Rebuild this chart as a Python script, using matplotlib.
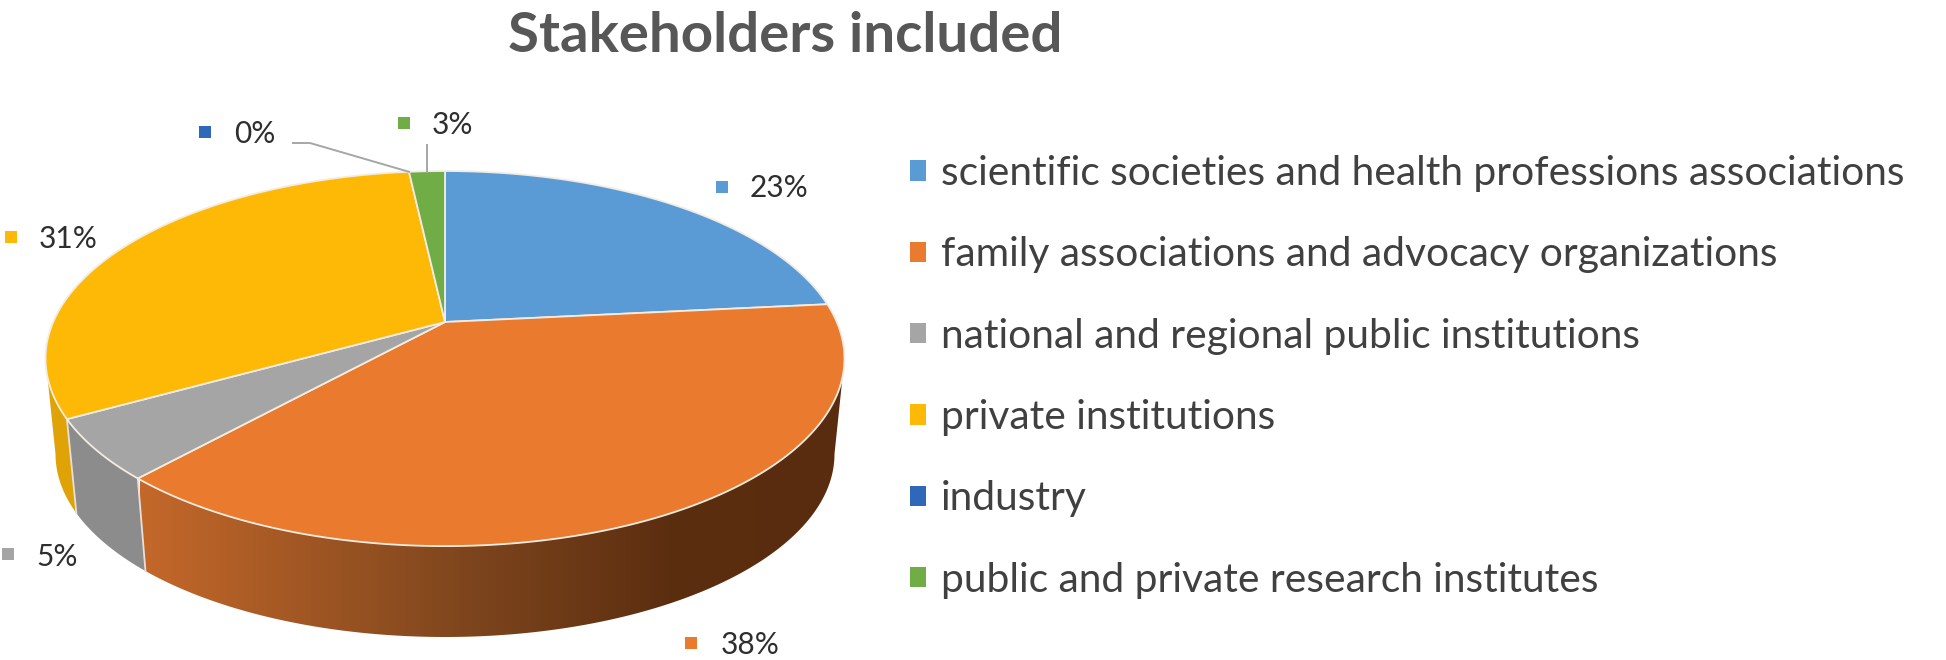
import numpy as np
import matplotlib
matplotlib.use('Agg')
import matplotlib.pyplot as plt
from matplotlib.patches import Polygon, Patch
from matplotlib.colors import LinearSegmentedColormap

# shares, the labels are the printed ones
categories = ['scientific societies and health professions associations',
              'family associations and advocacy organizations',
              'national and regional public institutions',
              'private institutions',
              'industry',
              'public and private research institutes']
shares = [23.4, 38.3, 5.2, 31.35, 0.0, 1.75]
labels = ['23%', '38%', '5%', '31%', '0%', '3%']
colors = ['#5b9bd5', '#ea7b2e', '#a5a5a5', '#fdb906', '#2f68b8', '#70ad47']
wall_colors = ['#44749f', '#b5622a', '#8c8c8c', '#dfa308', '#254f8c', '#55823a']

# pie projection (pixels of the reference)
apex_x, apex_y = 445.0, 322.0
R, S, k = 391.8, 180.4, 0.195
wall_scale, wall_drop = 0.975, 96.5

plt.rcParams['font.family'] = ['Lato', 'DejaVu Sans']

fig = plt.figure(figsize=(19.46, 6.6), dpi=100)
ax = fig.add_axes([0, 0, 1, 1])
ax.set_xlim(0, 1946)
ax.set_ylim(660, 0)
ax.axis('off')


def rim(theta):
    X, Y = np.cos(theta), np.sin(theta)
    w = 1 + k * Y
    return apex_x + R * X / w, apex_y - S * Y / w


def base(theta):
    x, y = rim(theta)
    return apex_x + wall_scale * (x - apex_x), apex_y + wall_scale * (y - apex_y) + wall_drop


# slice edges, clockwise from 12 o'clock
edges = np.pi / 2 - 2 * np.pi * np.cumsum([0] + shares) / sum(shares)

# only the front of the wall shows, between the two outermost rim points
front_right = -np.arcsin(k)
front_left = -np.pi + np.arcsin(k)

for i in range(len(shares)):
    start = min(edges[i], front_right)
    end = max(edges[i + 1], front_left)
    if shares[i] == 0 or start <= end:
        continue
    th = np.linspace(start, end, 200)
    xr, yr = rim(th)
    xb, yb = base(th)
    pts = np.column_stack([np.r_[xr, xb[::-1]], np.r_[yr, yb[::-1]]])
    if i == 1:
        # family associations wall has the dark gradient
        poly = Polygon(pts, closed=True, fc='none', ec='none', transform=ax.transData)
        ax.add_patch(poly)
        cmap = LinearSegmentedColormap.from_list('wall', [(0, '#c4682a'), (0.47, '#7d451d'),
                                                          (0.75, '#5c2e10'), (1, '#5a2c0f')])
        im = ax.imshow(np.linspace(0, 1, 400).reshape(1, -1), cmap=cmap, aspect='auto',
                       extent=(140, 845, 660, 0), zorder=1)
        im.set_clip_path(poly)
        ax.set_xlim(0, 1946)
        ax.set_ylim(660, 0)
    else:
        ax.add_patch(Polygon(pts, closed=True, fc=wall_colors[i], ec='none', zorder=1))
    # light seam where two walls meet
    if end > front_left:
        ax.plot([rim(end)[0], base(end)[0]], [rim(end)[1], base(end)[1]], color='#e8e0d8', lw=1.3, zorder=2)

# top face
for i in range(len(shares)):
    if shares[i] == 0:
        continue
    th = np.linspace(edges[i], edges[i + 1], 200)
    xr, yr = rim(th)
    pts = np.column_stack([np.r_[apex_x, xr], np.r_[apex_y, yr]])
    ax.add_patch(Polygon(pts, closed=True, fc=colors[i], ec='#f2ece2', lw=1.3, zorder=3))

# leader lines
ax.plot([293, 310, rim(edges[4])[0]], [143, 143, rim(edges[4])[1]], color='#a6a6a6', lw=1.4, zorder=4)
ax.plot([427, 427], [145, 172], color='#a6a6a6', lw=1.4, zorder=4)

# data labels: marker and text
label_marker = [(722, 187), (691, 643), (8, 554), (11, 237), (205, 132), (404, 123)]
label_text = [(750, 197), (721, 654), (36, 566), (39, 248), (234, 143), (432, 134)]
for i in range(len(labels)):
    ax.plot(*label_marker[i], marker='s', ms=8.5, color=colors[i], mew=0, zorder=5)
    ax.text(label_text[i][0], label_text[i][1], labels[i], fontsize=21.5, color='#2e2e2e',
            ha='left', va='baseline', zorder=5)

ax.text(785, 52, 'Stakeholders included', fontsize=40.6, fontweight='bold', color='#575757',
        ha='center', va='baseline')

handles = [Patch(fc=c, ec='none') for c in colors]
ax.legend(handles, categories, loc='upper left', bbox_to_anchor=(910, 155), bbox_transform=ax.transData,
          frameon=False, borderpad=0, borderaxespad=0, fontsize=29.3, labelcolor='#404040',
          labelspacing=1.09, handlelength=0.39, handleheight=0.39, handletextpad=0.37)

fig.savefig('out.png', dpi=100)
